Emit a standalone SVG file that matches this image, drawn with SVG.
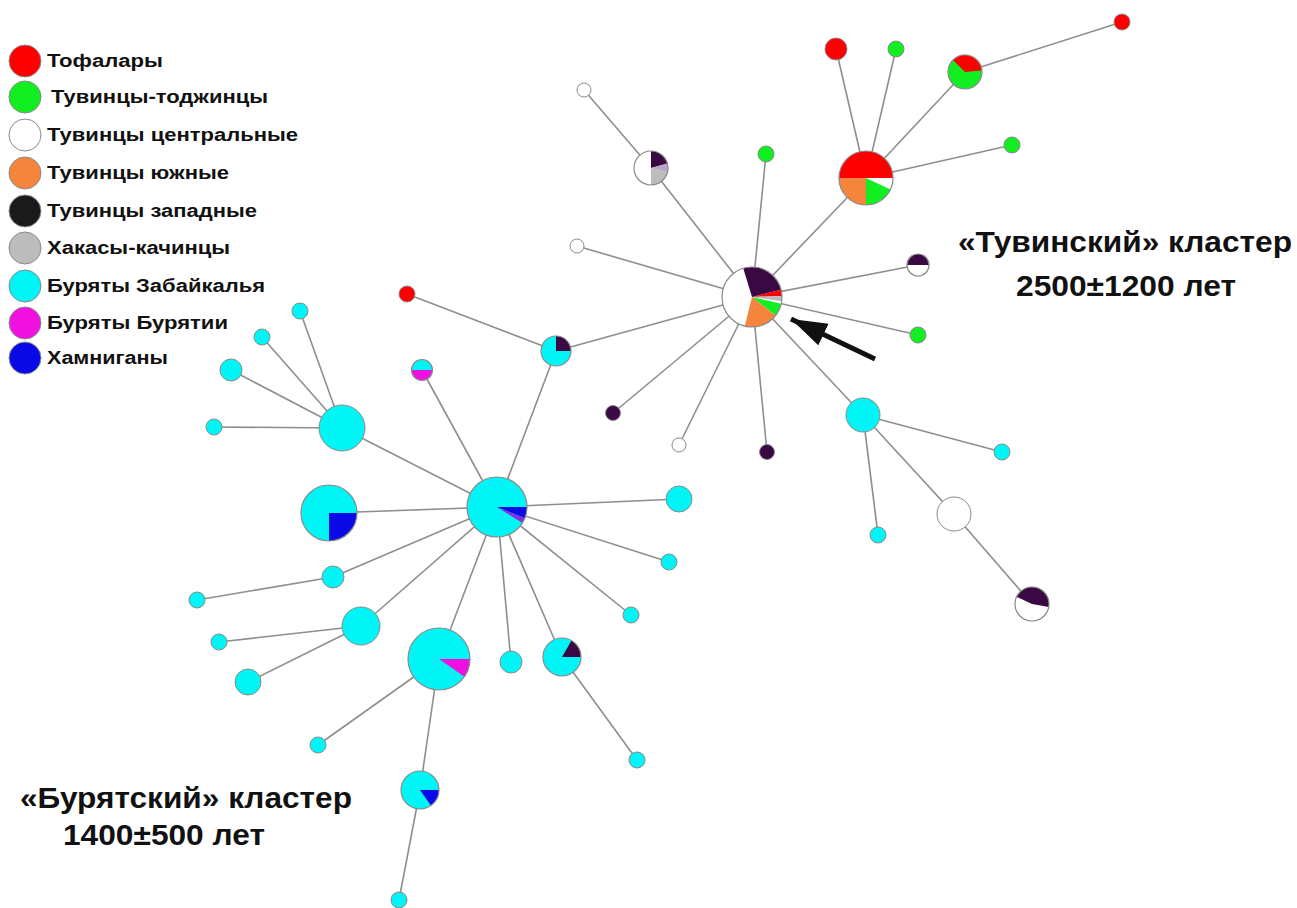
<svg xmlns="http://www.w3.org/2000/svg" width="1297" height="908" viewBox="0 0 1297 908">
<style>
.e{stroke:#8e8e8e;stroke-width:1.6;fill:none}
.o{fill:none;stroke:#8a8a8a;stroke-width:1.2}
.R{fill:#ff0000}.G{fill:#11ee22}.W{fill:#ffffff}.O{fill:#f5843c}.D{fill:#3a0842}.K{fill:#1a1a1a}.S{fill:#bcbcbc}.C{fill:#00f6f6}.M{fill:#f010e0}.B{fill:#0a0ae6}.V{fill:#8a2be2}.L{fill:#b8a6c8}
.c{stroke:#8a8a8a;stroke-width:1}
.lg{font-family:"Liberation Sans",Arial,sans-serif;font-weight:bold;font-size:18px;fill:#111}
.t{font-family:"Liberation Sans",Arial,sans-serif;font-weight:bold;font-size:29px;fill:#111}
</style>
<defs>
<marker id="ah" markerUnits="userSpaceOnUse" markerWidth="40" markerHeight="30" refX="36" refY="12" orient="auto">
<path d="M0,0 L36,12 L0,24 Z" fill="#111"/>
</marker>
</defs>
<rect width="1297" height="908" fill="#ffffff"/>

<g id="connectors">
<line class="e" x1="752" y1="297" x2="651" y2="168"/>
<line class="e" x1="651" y1="168" x2="584" y2="90"/>
<line class="e" x1="752" y1="297" x2="766" y2="154"/>
<line class="e" x1="752" y1="297" x2="577" y2="246"/>
<line class="e" x1="752" y1="297" x2="556" y2="351"/>
<line class="e" x1="752" y1="297" x2="613" y2="413"/>
<line class="e" x1="752" y1="297" x2="679" y2="445"/>
<line class="e" x1="752" y1="297" x2="767" y2="452"/>
<line class="e" x1="752" y1="297" x2="863" y2="415"/>
<line class="e" x1="752" y1="297" x2="918" y2="335"/>
<line class="e" x1="752" y1="297" x2="918" y2="265"/>
<line class="e" x1="752" y1="297" x2="866" y2="178"/>
<line class="e" x1="866" y1="178" x2="836" y2="49"/>
<line class="e" x1="866" y1="178" x2="896" y2="49"/>
<line class="e" x1="866" y1="178" x2="965" y2="72"/>
<line class="e" x1="965" y1="72" x2="1122" y2="22"/>
<line class="e" x1="866" y1="178" x2="1012" y2="145"/>
<line class="e" x1="863" y1="415" x2="1002" y2="452"/>
<line class="e" x1="863" y1="415" x2="878" y2="535"/>
<line class="e" x1="863" y1="415" x2="954" y2="514"/>
<line class="e" x1="954" y1="514" x2="1032" y2="604"/>
<line class="e" x1="556" y1="351" x2="407" y2="294"/>
<line class="e" x1="556" y1="351" x2="497" y2="507"/>
<line class="e" x1="497" y1="507" x2="422" y2="370"/>
<line class="e" x1="497" y1="507" x2="342" y2="428"/>
<line class="e" x1="342" y1="428" x2="300" y2="311"/>
<line class="e" x1="342" y1="428" x2="262" y2="337"/>
<line class="e" x1="342" y1="428" x2="231" y2="370"/>
<line class="e" x1="342" y1="428" x2="214" y2="427"/>
<line class="e" x1="497" y1="507" x2="329" y2="513"/>
<line class="e" x1="497" y1="507" x2="679" y2="499"/>
<line class="e" x1="497" y1="507" x2="669" y2="562"/>
<line class="e" x1="497" y1="507" x2="631" y2="615"/>
<line class="e" x1="497" y1="507" x2="562" y2="657"/>
<line class="e" x1="562" y1="657" x2="637" y2="760"/>
<line class="e" x1="497" y1="507" x2="511" y2="662"/>
<line class="e" x1="497" y1="507" x2="439" y2="659"/>
<line class="e" x1="439" y1="659" x2="318" y2="745"/>
<line class="e" x1="439" y1="659" x2="420" y2="790"/>
<line class="e" x1="420" y1="790" x2="399" y2="900"/>
<line class="e" x1="497" y1="507" x2="361" y2="626"/>
<line class="e" x1="361" y1="626" x2="219" y2="642"/>
<line class="e" x1="361" y1="626" x2="248" y2="682"/>
<line class="e" x1="497" y1="507" x2="333" y2="577"/>
<line class="e" x1="333" y1="577" x2="197" y2="600"/>
<line x1="875" y1="359" x2="791" y2="319" stroke="#111" stroke-width="5" marker-end="url(#ah)"/>
</g>

<g id="legend">
<circle class="R c" cx="25" cy="61" r="16"/><text class="lg" x="47" y="67" textLength="116" lengthAdjust="spacingAndGlyphs">Тофалары</text>
<circle class="G c" cx="25" cy="97" r="16"/><text class="lg" x="51" y="103" textLength="217" lengthAdjust="spacingAndGlyphs">Тувинцы-тоджинцы</text>
<circle class="W c" cx="25" cy="135" r="16"/><text class="lg" x="47" y="141" textLength="251" lengthAdjust="spacingAndGlyphs">Тувинцы центральные</text>
<circle class="O c" cx="25" cy="173" r="16"/><text class="lg" x="47" y="179" textLength="182" lengthAdjust="spacingAndGlyphs">Тувинцы южные</text>
<circle class="K c" cx="25" cy="211" r="16"/><text class="lg" x="47" y="217" textLength="210" lengthAdjust="spacingAndGlyphs">Тувинцы западные</text>
<circle class="S c" cx="25" cy="248" r="16"/><text class="lg" x="47" y="254" textLength="183" lengthAdjust="spacingAndGlyphs">Хакасы-качинцы</text>
<circle class="C c" cx="25" cy="286" r="16"/><text class="lg" x="47" y="292" textLength="218" lengthAdjust="spacingAndGlyphs">Буряты Забайкалья</text>
<circle class="M c" cx="25" cy="323" r="16"/><text class="lg" x="47" y="329" textLength="181" lengthAdjust="spacingAndGlyphs">Буряты Бурятии</text>
<circle class="B c" cx="25" cy="358" r="16"/><text class="lg" x="47" y="364" textLength="121" lengthAdjust="spacingAndGlyphs">Хамниганы</text>
</g>

<g id="n-T0">
<circle class="W" cx="752" cy="297" r="30"/>
<path class="D" d="M752,297 L743.23,268.31 A30,30 0 0 1 781.11,289.74 Z"/>
<path class="R" d="M752,297 L781.11,289.74 A30,30 0 0 1 781.98,295.95 Z"/>
<path class="S" d="M752,297 L781.98,295.95 A30,30 0 0 1 781.71,301.18 Z"/>
<path class="G" d="M752,297 L781.23,303.75 A30,30 0 0 1 775.64,315.47 Z"/>
<path class="O" d="M752,297 L775.64,315.47 A30,30 0 0 1 744.74,326.11 Z"/>
<circle class="o" cx="752" cy="297" r="30"/>
</g>
<g id="n-p651">
<circle class="W" cx="651" cy="168" r="17"/>
<path class="D" d="M651,168 L651,151 A17,17 0 0 1 667.42,163.6 Z"/>
<path class="L" d="M651,168 L667.42,163.6 A17,17 0 0 1 667.42,172.4 Z"/>
<path class="S" d="M651,168 L667.42,172.4 A17,17 0 0 1 651,185 Z"/>
<circle class="o" cx="651" cy="168" r="17"/>
</g>
<g id="n-w584"><circle class="W c" cx="584" cy="90" r="7"/></g>
<g id="n-g766"><circle class="G c" cx="766" cy="154" r="8"/></g>
<g id="n-w577"><circle class="W c" cx="577" cy="246" r="7"/></g>
<g id="n-d613"><circle class="D c" cx="613" cy="413" r="7.5"/></g>
<g id="n-w679"><circle class="W c" cx="679" cy="445" r="7"/></g>
<g id="n-d767"><circle class="D c" cx="767" cy="452" r="7.5"/></g>
<g id="n-g918"><circle class="G c" cx="918" cy="335" r="8"/></g>
<g id="n-p918">
<circle class="W" cx="918" cy="265" r="11"/>
<path class="D" d="M918,265 L907,265 A11,11 0 0 1 929,265 Z"/>
<circle class="o" cx="918" cy="265" r="11"/>
</g>
<g id="n-p866">
<circle class="W" cx="866" cy="178" r="27"/>
<path class="R" d="M866,178 L839,178 A27,27 0 0 1 893,178 Z"/>
<path class="G" d="M866,178 L890.47,189.41 A27,27 0 0 1 866,205 Z"/>
<path class="O" d="M866,178 L866,205 A27,27 0 0 1 839,178 Z"/>
<circle class="o" cx="866" cy="178" r="27"/>
</g>
<g id="n-r836"><circle class="R c" cx="836" cy="49" r="11"/></g>
<g id="n-g896"><circle class="G c" cx="896" cy="49" r="8"/></g>
<g id="n-p965">
<circle class="G" cx="965" cy="72" r="17"/>
<path class="R" d="M965,72 L952.98,59.98 A17,17 0 0 1 981.94,70.52 Z"/>
<circle class="o" cx="965" cy="72" r="17"/>
</g>
<g id="n-r1122"><circle class="R c" cx="1122" cy="22" r="8"/></g>
<g id="n-g1012"><circle class="G c" cx="1012" cy="145" r="8"/></g>
<g id="n-c863"><circle class="C c" cx="863" cy="415" r="17"/></g>
<g id="n-c1002"><circle class="C c" cx="1002" cy="452" r="8"/></g>
<g id="n-c878"><circle class="C c" cx="878" cy="535" r="8"/></g>
<g id="n-w954"><circle class="W c" cx="954" cy="514" r="17"/></g>
<g id="n-p1032">
<circle class="W" cx="1032" cy="604" r="17"/>
<path class="D" d="M1032,604 L1016.59,596.82 A17,17 0 0 1 1048.74,606.95 Z"/>
<circle class="o" cx="1032" cy="604" r="17"/>
</g>

<g id="n-p556">
<circle class="C" cx="556" cy="351" r="15"/>
<path class="D" d="M556,351 L556,336 A15,15 0 0 1 571,351 Z"/>
<circle class="o" cx="556" cy="351" r="15"/>
</g>
<g id="n-r407"><circle class="R c" cx="407" cy="294" r="8"/></g>
<g id="n-B0">
<circle class="C" cx="497" cy="507" r="30"/>
<path class="B" d="M497,507 L527,507 A30,30 0 0 1 524.82,518.24 Z"/>
<path class="V" d="M497,507 L524.82,518.24 A30,30 0 0 1 522.44,522.9 Z"/>
<circle class="o" cx="497" cy="507" r="30"/>
</g>
<g id="n-p422">
<circle class="C" cx="422" cy="370" r="10.5"/>
<path class="M" d="M422,370 L432.5,370 A10.5,10.5 0 0 1 411.5,370 Z"/>
<circle class="o" cx="422" cy="370" r="10.5"/>
</g>
<g id="n-c342"><circle class="C c" cx="342" cy="428" r="23"/></g>
<g id="n-c300"><circle class="C c" cx="300" cy="311" r="8"/></g>
<g id="n-c262"><circle class="C c" cx="262" cy="337" r="8"/></g>
<g id="n-c231"><circle class="C c" cx="231" cy="370" r="11"/></g>
<g id="n-c214"><circle class="C c" cx="214" cy="427" r="8"/></g>
<g id="n-p329">
<circle class="C" cx="329" cy="513" r="28"/>
<path class="B" d="M329,513 L357,513 A28,28 0 0 1 329,541 Z"/>
<circle class="o" cx="329" cy="513" r="28"/>
</g>
<g id="n-c679"><circle class="C c" cx="679" cy="499" r="13"/></g>
<g id="n-c669"><circle class="C c" cx="669" cy="562" r="8"/></g>
<g id="n-c631"><circle class="C c" cx="631" cy="615" r="8"/></g>
<g id="n-p562">
<circle class="C" cx="562" cy="657" r="19"/>
<path class="D" d="M562,657 L571.5,640.55 A19,19 0 0 1 581,657 Z"/>
<circle class="o" cx="562" cy="657" r="19"/>
</g>
<g id="n-c637"><circle class="C c" cx="637" cy="760" r="8"/></g>
<g id="n-c511"><circle class="C c" cx="511" cy="662" r="11"/></g>
<g id="n-p439">
<circle class="C" cx="439" cy="659" r="31"/>
<path class="M" d="M439,659 L470,659 A31,31 0 0 1 464.39,676.78 Z"/>
<circle class="o" cx="439" cy="659" r="31"/>
</g>
<g id="n-c318"><circle class="C c" cx="318" cy="745" r="8"/></g>
<g id="n-p420">
<circle class="C" cx="420" cy="790" r="19"/>
<path class="B" d="M420,790 L439,790 A19,19 0 0 1 430.9,805.56 Z"/>
<circle class="o" cx="420" cy="790" r="19"/>
</g>
<g id="n-c399"><circle class="C c" cx="399" cy="900" r="8"/></g>
<g id="n-c361"><circle class="C c" cx="361" cy="626" r="19"/></g>
<g id="n-c219"><circle class="C c" cx="219" cy="642" r="8"/></g>
<g id="n-c248"><circle class="C c" cx="248" cy="682" r="13"/></g>
<g id="n-c333"><circle class="C c" cx="333" cy="577" r="11"/></g>
<g id="n-c197"><circle class="C c" cx="197" cy="600" r="8"/></g>

<g id="labels">
<text class="t" x="958" y="252" textLength="334" lengthAdjust="spacingAndGlyphs">«Тувинский» кластер</text>
<text class="t" x="1016" y="296" textLength="220" lengthAdjust="spacingAndGlyphs">2500±1200 лет</text>
<text class="t" x="20" y="808" textLength="332" lengthAdjust="spacingAndGlyphs">«Бурятский» кластер</text>
<text class="t" x="63" y="845" textLength="202" lengthAdjust="spacingAndGlyphs">1400±500 лет</text>
</g>
</svg>
